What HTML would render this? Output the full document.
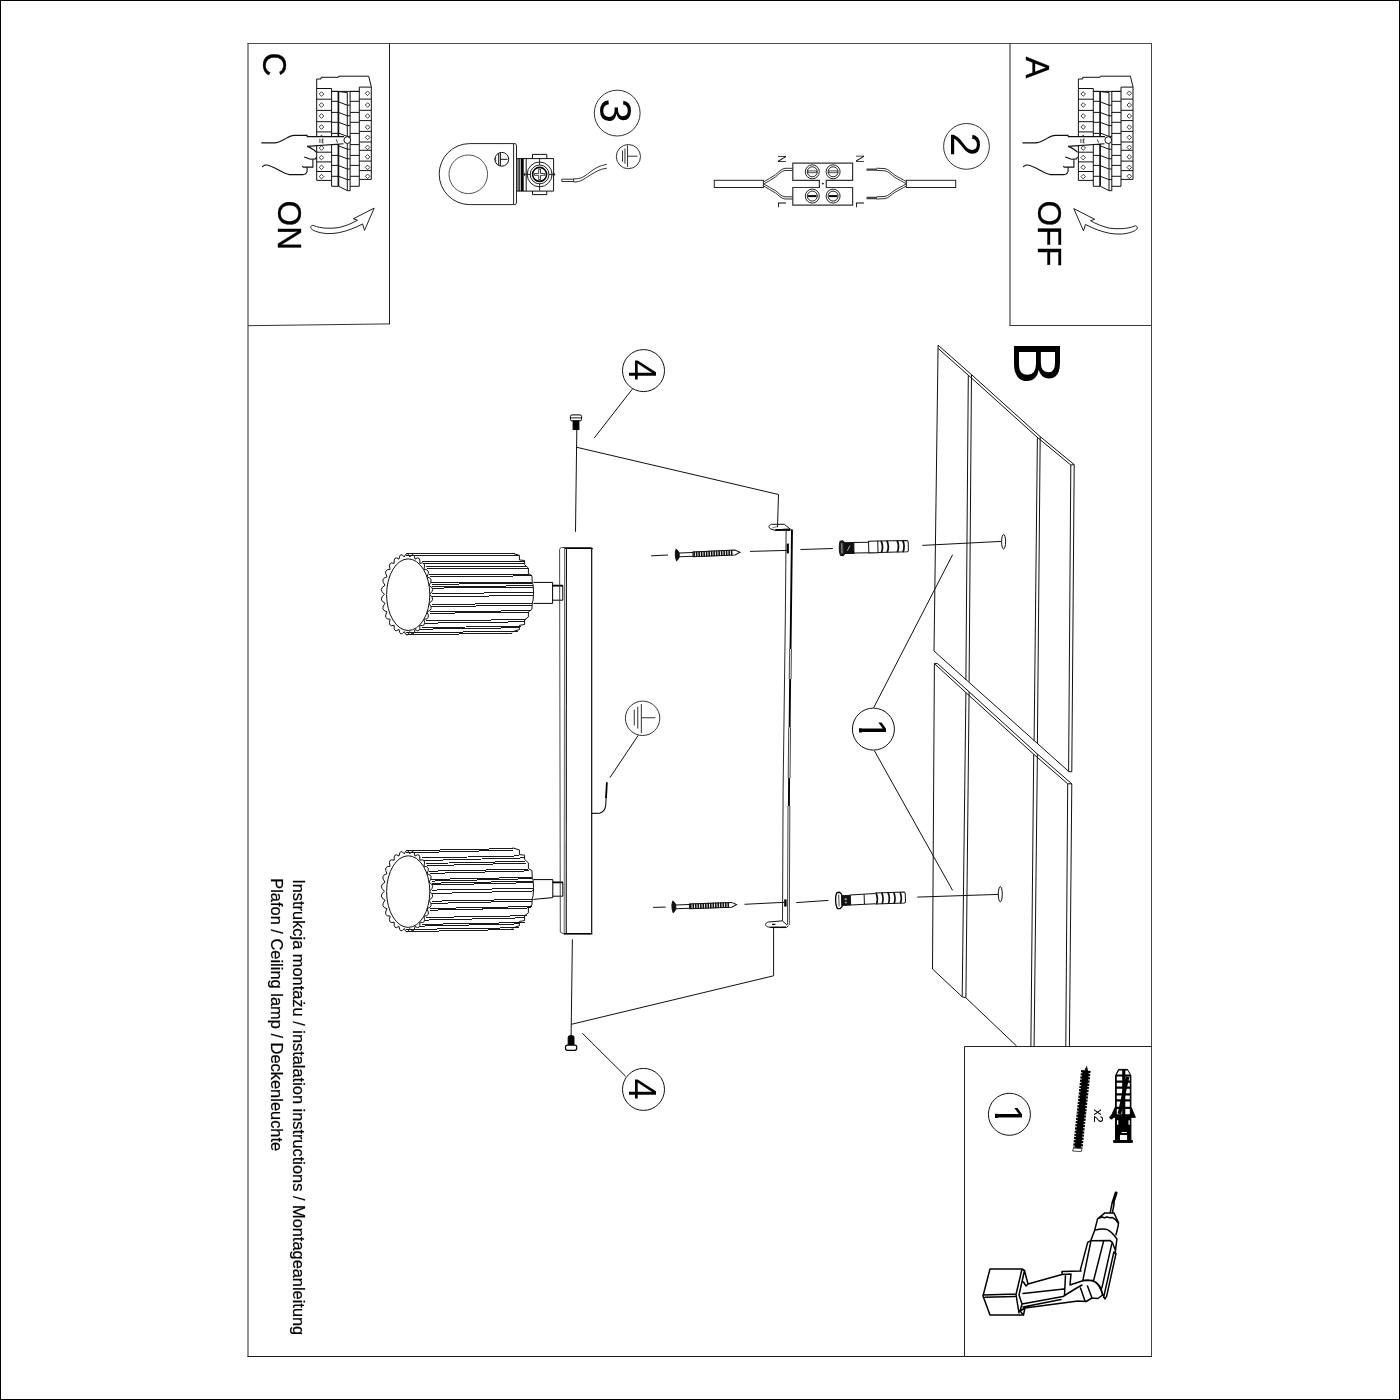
<!DOCTYPE html>
<html lang="pl"><head><meta charset="utf-8"><title>Instrukcja montażu</title>
<style>html,body{margin:0;padding:0;background:#fff}svg{display:block;will-change:transform}</style></head>
<body>
<svg width="1400" height="1400" viewBox="0 0 1400 1400">
<rect width="1400" height="1400" fill="#fff"/>
<rect x="0.5" y="0.5" width="1399" height="1399" fill="none" stroke="#000" stroke-width="1"/>
<g fill="none" stroke-width="1">
<path d="M248,43 V1357" stroke="#2a2a2a"/>
<path d="M247.5,43.5 H1152" stroke="#505050"/>
<path d="M1151.5,43 V1357" stroke="#444"/>
<path d="M247.5,1356.5 H1152" stroke="#1c1c1c"/>
<path d="M389.5,43.5 V324.4" stroke="#222"/>
<path d="M248,325.7 L389.5,323.9" stroke="#333"/>
<path d="M1010,43.5 V326" stroke="#222"/>
<path d="M1009.5,325.5 H1151.5" stroke="#3a3a3a"/>
<path d="M1151.5,1046.5 H964.5 V1356.5" stroke="#222"/>
</g>
<g id="brk" fill="none" stroke="#111" stroke-width="1">
<path d="M316.7,180.4 V79 H321 V77.3 H338.4 L338.7,76.2 H368.7 L370.1,82 L371.3,86.6 V179.4"/>
<path d="M316.7,88.5 H331.6 M316.7,99.2 H331.6 M316.7,110.4 H331.6 M316.7,121.7 H331.6 M316.7,131.9 H331.6 M316.7,142 H331.6 M316.7,152.2 H331.6 M316.7,161.9 H331.6 M316.7,171.5 H331.6 M316.7,180.4 H331.6 M331.6,88.5 V186.3 M359.3,87.1 H371.3 M359.3,99.1 H371.3 M359.3,110.3 H371.3 M359.3,120.6 H371.3 M359.3,131.4 H371.3 M359.3,142 H371.3 M359.3,150.3 H371.3 M359.3,161.1 H371.3 M359.3,170.6 H371.3 M359.3,179.4 H371.3 M359.3,87.1 V186.3 M331.6,91.4 H338.4 M350.1,91.4 H359.3 M331.6,101.3 H338.4 M350.1,101.3 H359.3 M331.6,112.4 H338.4 M350.1,112.4 H359.3 M331.6,122.3 H338.4 M350.1,122.3 H359.3 M331.6,133.4 H338.4 M350.1,133.4 H359.3 M331.6,144.6 H338.4 M350.1,144.6 H359.3 M331.6,155.4 H338.4 M350.1,155.4 H359.3 M331.6,165.4 H338.4 M350.1,165.4 H359.3 M331.6,176.3 H338.4 M350.1,176.3 H359.3 M331.6,186.3 H338.4 M350.1,186.3 H359.3 M331.6,91.4 H359.3 M347.3,92.4 V190.6 M350.1,91.4 V190.8 M347.3,190.7 H350.1 M338.9,102 L347.3,105.2 H350.1 M338.9,112.6 L347.3,115.8 H350.1 M338.9,122.4 L347.3,125.60000000000001 H350.1 M338.9,133.2 L347.3,136.39999999999998 H350.1 M338.9,146 L347.3,149.2 H350.1 M338.9,155.6 L347.3,158.79999999999998 H350.1 M338.9,165.8 L347.3,169.0 H350.1 M338.9,176.4 L347.3,179.6 H350.1 M338.7,91.6 L347.3,92.6 M338.7,186.3 L347.3,190.6 "/>
<path d="M338.4,91.4 V186.3" stroke-width="1.7"/>
<path d="M321.5,91.7 l2.3,2.3 l-2.3,2.3 l-2.3,-2.3 z M321.5,102.7 l2.3,2.3 l-2.3,2.3 l-2.3,-2.3 z M321.5,113.7 l2.3,2.3 l-2.3,2.3 l-2.3,-2.3 z M321.5,124.7 l2.3,2.3 l-2.3,2.3 l-2.3,-2.3 z M321.5,135.1 l2.3,2.3 l-2.3,2.3 l-2.3,-2.3 z M321.5,145.7 l2.3,2.3 l-2.3,2.3 l-2.3,-2.3 z M321.5,155.29999999999998 l2.3,2.3 l-2.3,2.3 l-2.3,-2.3 z M321.5,165.0 l2.3,2.3 l-2.3,2.3 l-2.3,-2.3 z M321.5,174.29999999999998 l2.3,2.3 l-2.3,2.3 l-2.3,-2.3 z M367.6,91.0 l2.3,2.3 l-2.3,2.3 l-2.3,-2.3 z M367.6,102.7 l2.3,2.3 l-2.3,2.3 l-2.3,-2.3 z M367.6,113.7 l2.3,2.3 l-2.3,2.3 l-2.3,-2.3 z M367.6,124.9 l2.3,2.3 l-2.3,2.3 l-2.3,-2.3 z M367.6,135.1 l2.3,2.3 l-2.3,2.3 l-2.3,-2.3 z M367.6,145.1 l2.3,2.3 l-2.3,2.3 l-2.3,-2.3 z M367.6,154.6 l2.3,2.3 l-2.3,2.3 l-2.3,-2.3 z M367.6,165.1 l2.3,2.3 l-2.3,2.3 l-2.3,-2.3 z M367.6,174.0 l2.3,2.3 l-2.3,2.3 l-2.3,-2.3 z " stroke-width="0.8"/>
</g>
<g id="hnd" fill="none" stroke="#111" stroke-width="1">
<path d="M306.5,136.6 H345 V143.6 L306.5,146.4 Z" fill="#fff" stroke="none"/>
<path d="M261.4,142.9 L274.3,142.9 C279,142.7 283,140 286,138.4 C289,136.6 291.5,135.4 294.3,135.4 L307.1,135.4 L307.3,136.6 L344,136.6 M343.5,143.7 L307.1,146.4 C310.5,147.4 313.4,149.6 316.6,152.2 M304.3,157.1 C307,157.4 308.8,159.3 310.9,159.3 L315.5,158.9 L316.6,157 M312.9,159.3 L312.9,167.1 L303.2,167.1 L302.3,166 M307.1,167.4 L307.1,171.4 C306.4,173.6 305,174.6 302.9,174.6 L289.3,174.6 C285,174 282,172 278.6,170 C275,168 273,167 271.4,166.4 C268.2,165.1 266.2,164.8 265,165.1 L262.1,166.8" stroke-width="1.1"/>
<circle cx="347.3" cy="140.1" r="3.4" fill="#fff"/>
<path d="M319.9,138.8 V143 M322.2,139 V142.8 M322.2,139 h1.4 M322.2,140.9 h1.2 M322.2,142.8 h1.4 M336.3,139.4 L337.5,142.8" stroke-width="0.8"/>
</g>
<use href="#brk" x="761.7" y="0"/>
<use href="#hnd" x="761" y="0"/>
<path id="arw" d="M310.6,227.3 C310.7,225.9 311.8,225.2 313.1,225.4 C317.5,227.2 322,228 326.9,228.2 C331,228.3 335,228.2 338.9,227.6 C346,225.8 352,223.4 357.5,220.2 L353.3,218.8 L374.2,208.1 L364.5,230.4 L362.6,223.9 C355,228 347,231 338.9,232.7 C335,233.4 331,233.7 326.9,233.6 C322.5,233.2 319,232.5 315.7,231.3 C313,230.3 310.9,229 310.6,227.3 Z" fill="#fff" stroke="#222" stroke-width="1"/>
<use href="#arw" transform="translate(1448,0.5) scale(-1,1)"/>
<text transform="translate(262.9,52.6) rotate(90)" font-family="Liberation Sans, Arial, sans-serif" font-size="33" fill="#000" stroke="#000" stroke-width="0.35">C</text>
<text transform="translate(278.3,200.5) rotate(90)" font-family="Liberation Sans, Arial, sans-serif" font-size="33" fill="#000" stroke="#000" stroke-width="0.35">ON</text>
<text transform="translate(1025.5,56.8) rotate(90)" font-family="Liberation Sans, Arial, sans-serif" font-size="32.5" fill="#000" stroke="#000" stroke-width="0.35">A</text>
<text transform="translate(1038.2,200.4) rotate(90)" font-family="Liberation Sans, Arial, sans-serif" font-size="33" fill="#000" stroke="#000" stroke-width="0.35">OFF</text>
<g fill="none" stroke="#333" stroke-width="1">
<circle cx="617.2" cy="113.1" r="22.9"/>
<path d="M513.6,143.6 H469.7 A30.5,30.5 0 0 0 469.7,204.6 H513.6 M513.6,143.6 V204.6 M513.6,143.6 h1.8 l1.1,1.6 V203 l-1.1,1.6 h-1.8" stroke="#222"/>
<circle cx="468.3" cy="174.3" r="19.3" stroke="#555"/>
<path d="M516.5,158.6 H553.6 V191.1 H516.5 M518,158.6 V191.1 M519.3,158.6 V191.1 M526.2,158.6 V191.1 M532.5,158.6 V154.4 H546.8 V158.6 M532.5,191.1 V194.6 H546.8 V191.1" stroke="#111"/>
<path d="M522.2,158.6 V191.1" stroke="#000" stroke-width="3"/>
<circle cx="539.6" cy="174.4" r="12.4" stroke="#222"/>
<circle cx="539.6" cy="174.4" r="9.4" stroke="#222"/>
<circle cx="539.6" cy="174.4" r="7" stroke="#000" stroke-width="1.6"/>
<path d="M538.7,169.2 h1.8 v4.3 h4.3 v1.8 h-4.3 v4.3 h-1.8 v-4.3 h-4.3 v-1.8 h4.3 z" stroke="#111" stroke-width="0.8"/>
<path d="M524.8,174.4 h6 M548.6,174.4 h6.2 M539.6,159 v6 M539.6,183.6 v7" stroke="#111" stroke-width="0.9"/>
<path d="M553.2,172 l1.6,2.4 l-1.6,2.4 z M525,172.6 l-1,1.8 l1,1.8" fill="#000" stroke-width="0.8"/>
<path d="M573.6,179.2 H561.8 V181.5 H573.6 M573.6,178.8 C578,178.9 580,178.4 582.4,177.4 C586,175.6 589,172.6 592.9,170 C596,168 598,166.8 601.4,165.7 L606.8,164.3 M573.6,182 C577,182.2 580,181.4 582.9,179.7 C586.5,177.6 589,175.6 592.9,173.6 C596,171.7 598,170.5 601.4,169.3 L606.8,168.2 M573.6,178.8 V182" stroke="#333"/>
</g>
<g fill="none" stroke="#111" stroke-width="1"><circle cx="501.8" cy="159.3" r="6.9"/><path d="M500.4,152.6 V166 M498.7,153.4 V165.2 M500.4,159.3 H507.6 M494.8,159.3 l1.2,-1.4 M494.8,159.3 l1.2,1.4"/></g>
<g fill="none" stroke="#333" stroke-width="1"><circle cx="628.4" cy="156.6" r="12.1" fill="#fff"/><path d="M627.52,145.28 V166.94 M627.52,156.21 H637.38 M624.98,148.40 V163.82 M622.55,150.55 V161.67"/></g>
<text transform="translate(600.4,98.4) rotate(90)" font-family="Liberation Sans, Arial, sans-serif" font-size="44" fill="#000" >3</text>
<g fill="none" stroke="#222" stroke-width="1">
<circle cx="966.5" cy="146.4" r="22.9" stroke="#333"/>
<rect x="714.3" y="180.3" width="49.1" height="7.2"/>
<rect x="906.3" y="180.3" width="49.4" height="7.2"/>
<path d="M763.6,181.9 C768,179.5 771,177.5 775.4,174.8 C779,171.9 781,168.9 785,168.3 L792.8,168.3" stroke="#333"/>
<path d="M763.6,183.8 C768,186.3 771,188.3 775.4,190.70000000000002 C779,193.3 781,196.3 785,196.8 L792.8,196.8" stroke="#333"/>
<path d="M763.6,184.1 C768,181.7 771,179.7 775.4,177.0 C779,174.1 781,171.1 785,170.5 L792.8,170.5" stroke="#333"/>
<path d="M763.6,186.0 C768,188.5 771,190.5 775.4,192.9 C779,195.5 781,198.5 785,199.0 L792.8,199.0" stroke="#333"/>
<path d="M906.3,181.5 C902,179.3 899,177.5 894.9,175.20000000000002 C891,172.5 889,169.5 885,168.6 L876.6,168.20000000000002" stroke="#333"/>
<path d="M906.3,183.9 C902,186.1 899,187.9 894.9,190.1 C891,192.70000000000002 889,195.5 885,196.4 L876.6,196.9" stroke="#333"/>
<path d="M906.3,183.7 C902,181.5 899,179.7 894.9,177.4 C891,174.7 889,171.7 885,170.79999999999998 L876.6,170.4" stroke="#333"/>
<path d="M906.3,186.1 C902,188.29999999999998 899,190.1 894.9,192.29999999999998 C891,194.9 889,197.7 885,198.6 L876.6,199.1" stroke="#333"/>
<path d="M866.5,169.6 H877 M866.5,198 H877" stroke="#444" stroke-width="2.4"/>
<path d="M792.8,180.3 V163.2 H852.6 V180.3 H826.3 V187.5 H852.6 V205.2 H792.8 V187.5 H819.4 V180.3 Z" stroke="#333" stroke-width="1.2"/>
<circle cx="812.3" cy="171.8" r="7"/><circle cx="812.3" cy="171.8" r="5"/>
<path d="M808.0999999999999,170.9 h8.4 v1.8 h-8.4 z" stroke-width="0.8"/>
<circle cx="812.3" cy="196.1" r="7"/><circle cx="812.3" cy="196.1" r="5"/>
<path d="M808.0999999999999,196.1 h8.4" stroke="#000" stroke-width="2"/>
<circle cx="833.1" cy="171.8" r="7"/><circle cx="833.1" cy="171.8" r="5"/>
<path d="M828.9,170.9 h8.4 v1.8 h-8.4 z" stroke-width="0.8"/>
<circle cx="833.1" cy="196.1" r="7"/><circle cx="833.1" cy="196.1" r="5"/>
<path d="M828.9,196.1 h8.4" stroke="#000" stroke-width="2"/>
<circle cx="822.9" cy="183.6" r="0.6" fill="#333"/>
</g>
<text transform="translate(778.4,154.9) rotate(90)" font-family="Liberation Sans, Arial, sans-serif" font-size="11" fill="#000" >N</text>
<text transform="translate(855.8,154.7) rotate(90)" font-family="Liberation Sans, Arial, sans-serif" font-size="11" fill="#000" >N</text>
<text transform="translate(778.4,201.6) rotate(90)" font-family="Liberation Sans, Arial, sans-serif" font-size="11" fill="#000" >L</text>
<text transform="translate(855.6,201.4) rotate(90)" font-family="Liberation Sans, Arial, sans-serif" font-size="11" fill="#000" >L</text>
<text transform="translate(951.1,132.6) rotate(90)" font-family="Liberation Sans, Arial, sans-serif" font-size="43" fill="#000" >2</text>
<g fill="none" stroke="#111" stroke-width="1">
<path d="M938.1,345.2 L934,651 L1069,771.7 L1071.8,771.7 M938.1,345.2 L971.5,374.6 L1040.2,436.6 L1074.2,464.6 M938.1,348.4 L968.3,375.2 L1037.4,437.4 L1070.8,465 L1074.2,464.6 M968.3,375.2 L965.9,679.8 M971.5,374.6 L969.1,681.8 M1037.4,437.4 L1034.1,741.1 M1040.2,436.6 L1037.4,743 M1070.8,465 L1068.6,771.5 M1074.2,464.6 L1071.8,771.7 M934.4,663.6 L932.5,969 L962.2,996.8 L965.9,997.8 L1016.6,1046 M934.4,663.6 L937.6,663.6 L969.1,691.8 L1037.4,754 L1071.8,783.8 M934.4,663.6 L965.9,692.6 L1033.7,754.2 L1067.7,783.8 L1071.8,783.8 M965.9,692.6 L962.2,996.8 M969.1,691.8 L965.9,997.8 M1033.7,754.2 L1030.9,1046 M1037.4,754 L1034.1,1046 M1067.7,783.8 L1065.8,1046 M1071.8,783.8 L1069.4,1046 "/>
<ellipse cx="1003.6" cy="541.7" rx="2" ry="7.3" stroke="#111"/>
<ellipse cx="1000.3" cy="894.2" rx="2" ry="7.6" stroke="#111"/>
</g>
<text transform="translate(1013.8,340.6) rotate(90)" font-family="Liberation Sans, Arial, sans-serif" font-size="66" fill="#000" >B</text>
<g fill="none" stroke="#222" stroke-width="1">
<path d="M533.4,582.4 H552.6 V603.4 H533.4 M552.6,585.6 H562.8 V600.2 H552.6" stroke="#000"/>
<path d="M533.4,879.6 H552.8 V897.6 L533.4,899.4 M552.8,882.4 H562.8 V896.2 H552.8" stroke="#000"/>
<path d="M552.6,585.6 H562.8 M552.8,882.4 H562.8" stroke="#000" stroke-width="1.6"/>
<path d="M565,547.5 H561.6 q-1.8,0.2 -2,2.1 L560.3,932.2 L564.4,934.2" stroke="#333" stroke-width="0.9"/>
<path d="M591.7,549 V934" stroke="#000" stroke-width="1.15"/>
<path d="M566.4,549 L566.2,934" stroke="#000" stroke-width="1.05"/>
<path d="M564.6,549 L564.2,934" stroke="#222" stroke-width="0.7"/>
<path d="M564.4,548.2 H591 q1,0.1 1.2,1" stroke="#000" stroke-width="1.8"/>
<path d="M564,933.8 H592.2" stroke="#000" stroke-width="1.6"/>
</g>
<g fill="none" stroke="#222" stroke-width="0.9">
<path d="M429.60,594.30 Q435.99,599.63 428.94,603.30 Q434.30,609.97 427.01,611.77 Q431.03,619.41 423.92,619.23 Q426.36,627.38 419.84,625.24 Q420.57,633.44 415.01,629.46 Q413.99,637.22 409.72,631.63 Q407.00,638.50 404.28,631.63 Q400.01,637.22 398.99,629.46 Q393.43,633.44 394.16,625.24 Q387.64,627.38 390.08,619.23 Q382.97,619.41 386.99,611.77 Q379.70,609.97 385.06,603.30 Q378.01,599.63 384.40,594.30 Q378.01,588.97 385.06,585.30 Q379.70,578.63 386.99,576.83 Q382.97,569.19 390.08,569.37 Q387.64,561.22 394.16,563.36 Q393.43,555.16 398.99,559.14 Q400.01,551.38 404.28,556.97 Q407.00,550.10 409.72,556.97 Q413.99,551.38 415.01,559.14 Q420.57,555.16 419.84,563.36 Q426.36,561.22 423.92,569.37 Q431.03,569.19 427.01,576.83 Q434.30,578.63 428.94,585.30 Q435.99,588.97 429.60,594.30 " stroke="#111" stroke-width="1"/>
<ellipse cx="408.2" cy="594.6999999999999" rx="21.6" ry="35.8" fill="#fff" stroke="#111" stroke-width="1"/>
<path d="M406.00,553.80 L514.81,553.98 M406.00,555.90 L519.40,555.66 M421.90,561.10 L524.60,561.20 M423.84,563.60 L524.60,563.20 M425.73,566.60 L526.47,566.57 M426.89,568.80 L528.40,568.33 M429.17,574.30 L528.80,574.14 M429.88,576.50 L531.74,575.90 M431.33,582.50 L532.26,582.16 M431.62,584.20 L532.50,583.52 M431.91,586.30 L533.13,585.90 M432.11,588.10 L533.23,587.34 M432.39,593.20 L533.58,592.83 M432.36,596.60 L533.44,595.55 M431.63,604.30 L532.37,603.63 M431.25,606.50 L532.21,605.39 M430.03,611.60 L531.28,610.76 M429.51,613.30 L529.45,612.12 M426.49,620.60 L526.26,619.69 M425.02,623.20 L524.60,621.77 M421.90,627.50 L520.62,626.39 M420.33,629.20 L519.40,627.75 M406.00,632.60 L517.71,631.45 M406.00,634.80 L512.29,633.21 " stroke="#1a1a1a" stroke-width="1" shape-rendering="crispEdges"/>
<path d="M512.60,553.30 L519.40,555.36 L519.40,559.98 L524.60,560.48 L524.60,564.70 L528.40,568.04 L528.40,573.55 L531.90,575.61 L532.30,582.39 L533.10,584.85 L533.60,592.42 L533.10,600.09 L532.30,603.04 L531.90,609.33 L528.40,611.88 L528.40,616.90 L524.60,619.84 L524.60,624.46 L519.40,625.35 L519.40,629.58 L511.70,632.03 " stroke="#111" stroke-width="1"/>
</g>
<g fill="none" stroke="#222" stroke-width="0.9">
<path d="M429.60,891.20 Q435.99,896.53 428.94,900.20 Q434.30,906.87 427.01,908.67 Q431.03,916.31 423.92,916.13 Q426.36,924.28 419.84,922.14 Q420.57,930.34 415.01,926.36 Q413.99,934.12 409.72,928.53 Q407.00,935.40 404.28,928.53 Q400.01,934.12 398.99,926.36 Q393.43,930.34 394.16,922.14 Q387.64,924.28 390.08,916.13 Q382.97,916.31 386.99,908.67 Q379.70,906.87 385.06,900.20 Q378.01,896.53 384.40,891.20 Q378.01,885.87 385.06,882.20 Q379.70,875.53 386.99,873.73 Q382.97,866.09 390.08,866.27 Q387.64,858.12 394.16,860.26 Q393.43,852.06 398.99,856.04 Q400.01,848.28 404.28,853.87 Q407.00,847.00 409.72,853.87 Q413.99,848.28 415.01,856.04 Q420.57,852.06 419.84,860.26 Q426.36,858.12 423.92,866.27 Q431.03,866.09 427.01,873.73 Q434.30,875.53 428.94,882.20 Q435.99,885.87 429.60,891.20 " stroke="#111" stroke-width="1"/>
<ellipse cx="408.2" cy="891.6" rx="21.6" ry="35.8" fill="#fff" stroke="#111" stroke-width="1"/>
<path d="M406.00,850.70 L512.60,848.52 M406.00,852.80 L512.60,850.20 M421.90,858.00 L519.40,855.89 M423.84,860.50 L524.60,857.89 M425.73,863.50 L524.60,861.39 M426.89,865.70 L526.11,863.15 M429.17,871.20 L528.40,869.13 M429.88,873.40 L528.55,870.89 M431.33,879.40 L532.16,877.32 M431.62,881.10 L532.23,878.68 M431.91,883.20 L532.73,881.15 M432.11,885.00 L533.12,882.59 M432.39,890.10 L533.49,888.24 M432.36,893.50 L533.54,890.96 M431.63,901.20 L532.71,899.27 M431.25,903.40 L532.29,901.03 M430.03,908.50 L531.94,906.56 M429.51,910.20 L530.93,907.92 M426.49,917.50 L527.39,915.69 M425.02,920.10 L524.76,917.77 M421.90,924.40 L524.60,922.54 M420.33,926.10 L519.40,923.90 M406.00,929.50 L519.40,927.71 M406.00,931.70 L514.25,929.47 " stroke="#1a1a1a" stroke-width="1" shape-rendering="crispEdges"/>
<path d="M512.60,847.80 L519.40,849.91 L519.40,854.63 L524.60,855.14 L524.60,859.46 L528.40,862.87 L528.40,868.50 L531.90,870.61 L532.30,877.54 L533.10,880.06 L533.60,887.79 L533.10,895.63 L532.30,898.65 L531.90,905.08 L528.40,907.69 L528.40,912.82 L524.60,915.83 L524.60,920.55 L519.40,921.46 L519.40,925.78 L511.70,928.29 " stroke="#111" stroke-width="1"/>
</g>
<g fill="none" stroke="#111" stroke-width="1">
<path d="M922.3,545.4 L1001.4,541.4 M917.3,897.1 L998.2,894.4 M873.6,707.9 L952.6,554.7 M874.3,750.6 L952.6,890.4 M800.4,549.5 L832.9,548.5 M796.3,902.6 L828.4,900.4 M750,551.4 L787.1,550.4 M744.5,904.3 L784.4,902.3 M651.1,555.8 L668,555 M653.1,907.4 L665.7,907.1 M632.3,389.1 L594.3,437.9 M582.3,1033.2 L625.7,1076.3 M576.8,429.7 L575.5,531.8 M576.3,447.2 L778.5,494.5 L777.5,527.2 M572.4,939.3 L571.1,1035.7 M571.4,1024.3 L773.6,975.8 L773.6,927.5 M638.3,735.2 L609.9,777.7 "/>
<circle cx="873.4" cy="729.1" r="21"/>
<circle cx="643.5" cy="370.6" r="21"/>
<circle cx="643.5" cy="1089.4" r="21"/>
<circle cx="1009.4" cy="1114.3" r="21"/>
<path d="M591.8,813.4 L600,813.1 C603.5,812 605.2,809 605.7,805.7 L606.2,796" stroke="#111" stroke-width="1.1"/>
<path d="M606,798 L606.9,782.3" stroke="#000" stroke-width="1.8"/>
</g>
<g fill="none" stroke="#333" stroke-width="1"><circle cx="642.6" cy="718.3" r="17.2" fill="#fff"/><path d="M641.35,704.01 V733.00 M641.35,717.75 H655.36 M637.75,706.65 V728.56 M634.28,709.70 V725.51"/></g>
<clipPath id="c1"><path d="M0,-30 H24 V-3 H13.6 V0.5 H9.4 V-3 H0 Z"/></clipPath>
<text transform="translate(859.4,718.8) rotate(90)" font-family="Liberation Sans, Arial, sans-serif" font-size="39" fill="#000" clip-path="url(#c1)">1</text>
<text transform="translate(995.2,1104.3) rotate(90)" font-family="Liberation Sans, Arial, sans-serif" font-size="39" fill="#000" clip-path="url(#c1)">1</text>
<text transform="translate(629.2,359.4) rotate(90)" font-family="Liberation Sans, Arial, sans-serif" font-size="38" fill="#000" >4</text>
<text transform="translate(629.2,1078.5) rotate(90)" font-family="Liberation Sans, Arial, sans-serif" font-size="38" fill="#000" >4</text>
<g fill="none" stroke="#111" stroke-width="1">
<path d="M771.6,524.3 H784.3 L791.2,529.8 M771.6,524.3 C768.2,525 768.2,528 771,529 L775,530.3 H790"/>
<path d="M775.3,529.8 H790" stroke="#000" stroke-width="1.6"/>
<path d="M772.5,527.8 L777.5,526.6 M783,529 L789,528.6" stroke="#555" stroke-width="0.8"/>
<path d="M786.10,530.7 L785.30,620.0 L784.40,690.0 L783.10,790.0 L782.50,921.0" stroke="#111" stroke-width="0.9"/>
<path d="M791.2,529.6 L792,530.6 M792.00,529.8 L790.90,620.0 L790.53,649.0 M790.14,679.0 L790.00,690.0 L789.62,727.6 M789.12,778.0 L789.00,790.0 L788.93,806.0" stroke="#000" stroke-width="1.9"/>
<path d="M789.63,649.0 L789.24,679.0 M791.43,649.0 L791.04,679.0 M788.72,727.6 L788.22,778.0 M790.52,727.6 L790.02,778.0 M788.03,806.0 L787.50,925.0 M789.83,806.0 L789.30,925.0" stroke="#111" stroke-width="0.8"/>
<path d="M787.8,543.6 V553.4" stroke="#000" stroke-width="2.2"/>
<path d="M785.4,899.4 V906.6" stroke="#000" stroke-width="2.4"/>
<path d="M782.5,920.8 L768.5,922 C764.6,923 764.6,926.4 768.6,927 L771,927.5 H786.4 L788.6,925.6 M782.5,920.8 L787,925.2" fill="#fff"/>
<path d="M770.5,927.3 H786" stroke="#000" stroke-width="1.5"/>
<path d="M772,924.4 h3.4" stroke="#000" stroke-width="1.2"/>
</g>
<g transform="translate(677,555) rotate(-2.45)" fill="none" stroke="#111" stroke-width="1">
<path d="M-0.6,-5.7 C-2,-3 -2,3 -0.6,5.7 C0.9,4.6 1.8,3 2.2,2 V-2 C1.8,-3 0.9,-4.6 -0.6,-5.7 Z" fill="#111"/>
<path d="M2.2,-1.9 H16 M2.2,1.9 H16"/>
<path d="M16,-2.4 H58.057830600172096 L63.057830600172096,0 L58.057830600172096,2.4 H16 Z"/>
<path d="M17.2,-2.8 V2.8 M19.7,-2.8 V2.8 M22.2,-2.8 V2.8 M24.7,-2.8 V2.8 M27.2,-2.8 V2.8 M29.7,-2.8 V2.8 M32.2,-2.8 V2.8 M34.7,-2.8 V2.8 M37.2,-2.8 V2.8 M39.7,-2.8 V2.8 M42.2,-2.8 V2.8 M44.7,-2.8 V2.8 M47.2,-2.8 V2.8 M49.7,-2.8 V2.8 M52.2,-2.8 V2.8 M54.7,-2.8 V2.8 " stroke="#111" stroke-width="1.6"/>
</g>
<g transform="translate(673.6,906.9) rotate(-2.09)" fill="none" stroke="#111" stroke-width="1">
<path d="M-0.6,-5.7 C-2,-3 -2,3 -0.6,5.7 C0.9,4.6 1.8,3 2.2,2 V-2 C1.8,-3 0.9,-4.6 -0.6,-5.7 Z" fill="#111"/>
<path d="M2.2,-1.9 H16 M2.2,1.9 H16"/>
<path d="M16,-2.4 H58.04197014687913 L63.04197014687913,0 L58.04197014687913,2.4 H16 Z"/>
<path d="M17.2,-2.8 V2.8 M19.7,-2.8 V2.8 M22.2,-2.8 V2.8 M24.7,-2.8 V2.8 M27.2,-2.8 V2.8 M29.7,-2.8 V2.8 M32.2,-2.8 V2.8 M34.7,-2.8 V2.8 M37.2,-2.8 V2.8 M39.7,-2.8 V2.8 M42.2,-2.8 V2.8 M44.7,-2.8 V2.8 M47.2,-2.8 V2.8 M49.7,-2.8 V2.8 M52.2,-2.8 V2.8 M54.7,-2.8 V2.8 " stroke="#111" stroke-width="1.6"/>
</g>
<g transform="translate(840.3,548.3) rotate(-1.26)" fill="none" stroke="#111" stroke-width="1">
<path d="M0,-7 C-1.4,-4 -1.4,4 0,7 L2.6,7.4 L4.4,5.6 V-5.6 L2.6,-7.4 Z" fill="#222"/>
<path d="M1.6,-5 V5" stroke="#ccc" stroke-width="0.8"/>
<rect x="4.4" y="-5.4" width="9.2" height="10.8" fill="#111"/>
<path d="M7,2.6 L9.6,-2.4" stroke="#bbb" stroke-width="0.9"/>
<path d="M13.6,-5.4 H28.4 M13.6,5 H28.4"/>
<rect x="28.4" y="-6.4" width="9.2" height="11.6"/>
<path d="M37.6,-6.4 H67.01654210557899 L68.01654210557899,-5 V4 L67.01654210557899,5 H37.6"/>
<path d="M41,-6.6 C42.4,-3 42.4,2 41,5.2 M46.8,-6.6 C48.199999999999996,-3 48.199999999999996,2 46.8,5.2 M57,-6.6 C58.4,-3 58.4,2 57,5.2 M62.6,-6.6 C64.0,-3 64.0,2 62.6,5.2 " stroke="#111" stroke-width="1.8"/>
</g>
<g transform="translate(836.3,900.6) rotate(-1.99)" fill="none" stroke="#111" stroke-width="1">
<path d="M1,-8 C-1.2,-5 -1.2,5 1,8 L3.6,8.2 L5.6,6 V-6 L3.6,-8.2 Z" fill="#fff" stroke="#000" stroke-width="1.3"/>
<path d="M2.6,-6 V6" stroke="#333" stroke-width="0.9"/>
<rect x="5.6" y="-4.8" width="8.6" height="9.8" fill="#111"/>
<path d="M8.4,-2 h2.2 v2 h-2.2 z M8.4,1.4 h2.2 v1.6 h-2.2 z" fill="#999" stroke="none"/>
<path d="M14.2,-5.2 L38.8,-5.8 M14.2,5 L38.8,4.4 M28,-5.4 V4.8"/>
<path d="M38.8,-6.2 H68.14166616447714 L69.14166616447714,-4.8 V3.6 L68.14166616447714,4.8 H38.8"/>
<path d="M40,-6.4 C41.2,-3 41.2,2 40,5 M45.7,-6.4 C46.900000000000006,-3 46.900000000000006,2 45.7,5 M52,-6.4 C53.2,-3 53.2,2 52,5 M57.7,-6.4 C58.900000000000006,-3 58.900000000000006,2 57.7,5 M64,-6.4 C65.2,-3 65.2,2 64,5 " stroke="#111" stroke-width="1.7"/>
</g>
<g stroke="#000" fill="none" stroke-width="1"><rect x="570.4" y="414.9" width="11.2" height="6" rx="1.6" fill="#fff"/><path d="M570.6,417.9 h10.8" stroke-width="0.9"/><rect x="573.1" y="420.9" width="5.8" height="8.6" fill="#000"/></g>
<g stroke="#000" fill="none" stroke-width="1"><path d="M568.2,1046.7 V1037.3 q0,-1.6 1.6,-1.6 h2.6 q1.6,0 1.6,1.6 V1046.7 z" fill="#000"/><rect x="565.5" y="1045.1000000000001" width="11.2" height="5.2" rx="2" fill="#fff" stroke-width="1.2"/></g>
<g stroke="#000" fill="none">
<path d="M1085.7,1072 L1077.9,1147.5" stroke-width="6.4"/>
<path d="M1085.9,1070.5 L1077.8,1148" stroke-width="9.6" stroke-dasharray="2.2 1"/>
<path d="M1084.6,1071.2 L1086.6,1066.6 L1087.8,1071.6 Z" fill="#000" stroke-width="0.8"/>
<path d="M1073.6,1148 L1082,1148.8 L1081.2,1151.6 L1072.6,1151 Z" fill="#fff" stroke="#333" stroke-width="0.9"/>
</g>
<g stroke="#000" fill="#000" stroke-width="1">
<path d="M1115.5,1075.5 L1118.5,1069.4 H1127.5 L1130.9,1075.5 V1106.8 L1135.4,1117.3 H1130.9 V1140.5 H1132.4 V1142.4 H1113.6 V1140.5 H1115.5 V1117.3 H1110.6 L1115.5,1106.8 Z"/>
<path d="M1119,1070.4 H1122.2 V1074.5 H1116.8 Z M1125.3,1070.4 H1127.6 L1129.8,1074.5 H1125.3 Z M1116.8,1076.4 H1122.2 V1080.5 H1116.8 Z M1125.3,1076.4 H1129.8 V1080.5 H1125.3 Z M1116.8,1082.8 H1122.2 V1086.5 H1116.8 Z M1125.3,1082.8 H1129.8 V1086.5 H1125.3 Z M1116.8,1088.8 H1122.2 V1093.3 H1116.8 Z M1125.3,1088.8 H1129.8 V1093.3 H1125.3 Z M1116.8,1095.5 H1122.2 V1099.3 H1116.8 Z M1125.3,1095.5 H1129.8 V1099.3 H1125.3 Z M1116.8,1101.5 H1122.2 V1106.8 H1116.8 Z M1125.3,1101.5 H1129.8 V1106.8 H1125.3 Z M1116.8,1109 H1122.2 V1114.3 H1116.8 Z M1125.3,1109 H1129.8 V1114.3 H1125.3 Z " fill="#fff" stroke="none"/>
<path d="M1127.6,1076.6 L1119.4,1114" stroke="#000" stroke-width="3.6"/>
<path d="M1120,1134.9 h7.1 v5.2 h-7.1 z M1117,1120.3 h1.3 v4.5 h-1.3 z M1128.5,1120.3 h1.3 v4.5 h-1.3 z M1121.5,1131.9 h5.3 v1 h-5.3 z" fill="#fff" stroke="none"/>
<circle cx="1111.4" cy="1117.4" r="1.6"/>
</g>
<text transform="translate(1094.4,1109) rotate(90)" font-family="Liberation Sans, Arial, sans-serif" font-size="13" fill="#000" >x2</text>
<g fill="none" stroke="#000" stroke-width="1.5" stroke-linejoin="round" stroke-linecap="round">
<path d="M1116.1,1193 L1113.1,1202" stroke-width="3"/>
<path d="M1112.2,1202.6 L1110.2,1212.6 M1114.2,1203 L1112.4,1212.8"/>
<path d="M1104.9,1212.9 H1113.9 L1118.6,1222.7 L1118.1,1226.1 L1116,1234.7 M1104.9,1212.9 L1097.6,1218.9 L1094.6,1230.4 L1090.7,1240.7 M1097.6,1218.9 L1101.9,1217.1 L1104.6,1217.8 L1107,1217 L1109.8,1217.8 L1112.2,1217.4 L1115.2,1219.4 L1117.8,1222.6 M1094.6,1230.4 C1099,1229 1104,1228.6 1107.4,1229.6 C1111,1231.4 1114,1234.8 1116.9,1239 L1115.1,1253.6 M1090.7,1240.7 L1110,1240.5 C1112,1241.6 1113,1243 1113.4,1245 L1115.6,1251 M1090.7,1240.7 L1087.7,1242.4 L1080.4,1269.9 M1090.9,1241.2 L1083,1279.6 M1103.6,1241.1 L1093.7,1280.1 M1111.7,1244.1 L1101.9,1287.9 M1113.9,1251.9 L1103.6,1297.3 M1116,1253.6 L1106.6,1296.4 M1083,1280.1 L1092.9,1280.6 C1096,1281.6 1098,1283.6 1099.6,1286 C1101,1288.4 1102,1291 1102.6,1294 L1104.9,1299 L1106.6,1296.4 M1080.4,1269.9 L1081,1271 L1062,1271.5 V1274.5 L1071,1274 L1070,1285 L1082,1281 M1065.5,1275 L1064.5,1295 M1082,1281 C1088,1279.6 1092,1280 1095,1282 C1098,1283.6 1100.6,1287 1102.5,1295 L1098,1298.5 L1092,1298 L1086,1301.5 M1080.5,1288 L1085,1301 M1087.5,1286 L1092,1298 M1028,1284 L1062,1274.5 M1023,1293.5 L1064,1289 M1022,1304 L1063,1296.5 L1075,1289 L1082,1285 M1020,1311 L1025,1308 L1078,1301 L1086,1301.5 M1023,1307 L1061,1299.6 M990,1269 H1022 L1024.5,1270.5 L1028,1284 L1026,1286 L1023.5,1282 M990,1269 L983,1296 L990,1315 H1023.5 L1025,1308 M983,1295 L1016,1294 M985,1297.2 L1015,1296.6 M1022,1269 L1016,1294.5 L1019,1313 M1024.5,1270.5 L1019,1295 L1022,1304 L1020,1311 L1023.5,1315 "/>
</g>
<text transform="translate(293.2,879.2) rotate(90)" font-family="Liberation Sans, Arial, sans-serif" font-size="16" fill="#000" textLength="456" lengthAdjust="spacingAndGlyphs" stroke="#000" stroke-width="0.2">Instrukcja montażu / instalation instructions / Montageanleitung</text>
<text transform="translate(271.2,878.2) rotate(90)" font-family="Liberation Sans, Arial, sans-serif" font-size="16" fill="#000" textLength="273" lengthAdjust="spacingAndGlyphs" stroke="#000" stroke-width="0.2">Plafon / Ceiling lamp / Deckenleuchte</text>
</svg>
</body></html>
